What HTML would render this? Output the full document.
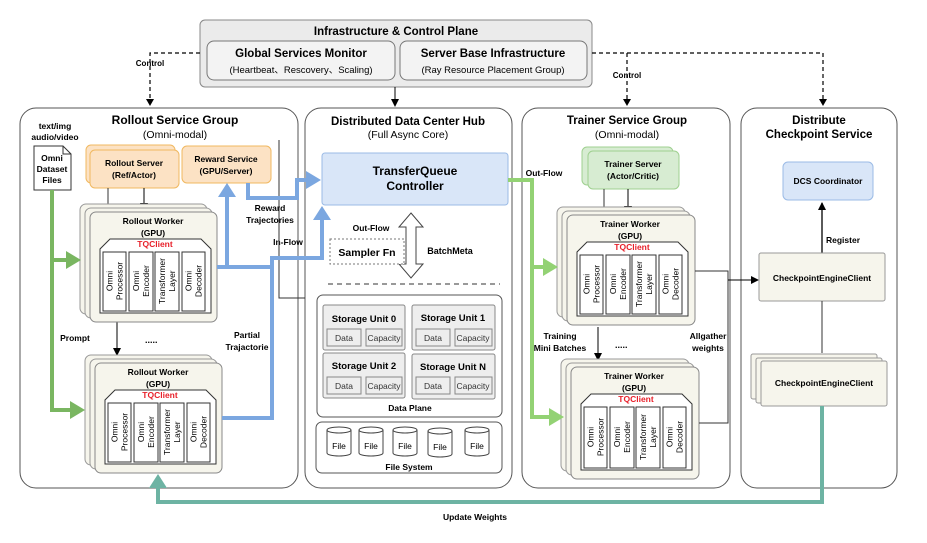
<!DOCTYPE html>
<html><head><meta charset="utf-8"><style>
html,body{margin:0;padding:0;background:#fff;}
svg{display:block;font-family:"Liberation Sans",Arial,sans-serif;}
.b{font-weight:bold;}
</style></head><body>
<svg width="927" height="543" viewBox="0 0 927 543" xmlns="http://www.w3.org/2000/svg">
<defs>
<marker id="ah" markerWidth="8" markerHeight="8" refX="7" refY="4" orient="auto" markerUnits="userSpaceOnUse"><path d="M0,0 L8,4 L0,8 Z" fill="#000"/></marker>
</defs>

<!-- Top infra box -->
<rect x="200" y="20" width="392" height="67" rx="5" fill="#ebebeb" stroke="#888"/>
<text x="396" y="35" text-anchor="middle" font-size="11.5" class="b">Infrastructure &amp; Control Plane</text>
<rect x="207" y="41" width="188" height="39" rx="7" fill="#f3f3f3" stroke="#777"/>
<text x="301" y="57" text-anchor="middle" font-size="11.5" class="b">Global Services Monitor</text>
<text x="301" y="73" text-anchor="middle" font-size="9.5" font-family="Liberation Sans,Noto Sans CJK SC,sans-serif">(Heartbeat、Rescovery、Scaling)</text>
<rect x="400" y="41" width="187" height="39" rx="7" fill="#f3f3f3" stroke="#777"/>
<text x="493" y="57" text-anchor="middle" font-size="11.5" class="b">Server Base Infrastructure</text>
<text x="493" y="73" text-anchor="middle" font-size="9.5">(Ray Resource Placement Group)</text>

<!-- control dashed -->
<g stroke="#000" stroke-width="1.2" stroke-dasharray="4,3" fill="none">
<path d="M200,53 H150 V100"/>
<path d="M592,53 H823 V100"/>
<path d="M627,53 V100"/>
</g>
<g fill="#000">
<path d="M146,99 L154,99 L150,106 Z"/><path d="M819,99 L827,99 L823,106 Z"/><path d="M623,99 L631,99 L627,106 Z"/>
</g>
<text x="150" y="66" text-anchor="middle" font-size="8" class="b">Control</text>
<text x="627" y="78" text-anchor="middle" font-size="8" class="b">Control</text>
<line x1="395" y1="87" x2="395" y2="106" stroke="#000" marker-end="url(#ah)"/>

<!-- group containers -->
<rect x="20" y="108" width="278" height="380" rx="16" fill="#fff" stroke="#555"/>
<rect x="305" y="108" width="207" height="380" rx="16" fill="#fff" stroke="#555"/>
<rect x="522" y="108" width="208" height="380" rx="16" fill="#fff" stroke="#555"/>
<rect x="741" y="108" width="156" height="380" rx="16" fill="#fff" stroke="#555"/>

<!-- Rollout group -->
<text x="175" y="124" text-anchor="middle" font-size="12" class="b">Rollout Service Group</text>
<text x="175" y="138" text-anchor="middle" font-size="10.5">(Omni-modal)</text>
<text x="55" y="129" text-anchor="middle" font-size="8.5" class="b">text/img</text>
<text x="55" y="140" text-anchor="middle" font-size="8.5" class="b">audio/video</text>
<path d="M34,146 H63 L71,154 V190 H34 Z" fill="#fff" stroke="#333"/>
<path d="M63,146 V154 H71" fill="none" stroke="#333"/>
<text x="52" y="161" text-anchor="middle" font-size="8.5" class="b">Omni</text>
<text x="52" y="172" text-anchor="middle" font-size="8.5" class="b">Dataset</text>
<text x="52" y="183" text-anchor="middle" font-size="8.5" class="b">Files</text>

<rect x="86" y="145" width="89" height="38" rx="5" fill="#fce2c4" stroke="#f0b860"/>
<rect x="90" y="150" width="89" height="38" rx="5" fill="#fce2c4" stroke="#f0b860"/>
<text x="134" y="166" text-anchor="middle" font-size="8.5" class="b">Rollout Server</text>
<text x="134" y="178" text-anchor="middle" font-size="8.5" class="b">(Ref/Actor)</text>
<rect x="182" y="146" width="89" height="37" rx="5" fill="#fce2c4" stroke="#f0b860"/>
<text x="226" y="162" text-anchor="middle" font-size="8.5" class="b">Reward Service</text>
<text x="226" y="174" text-anchor="middle" font-size="8.5" class="b">(GPU/Server)</text>
<line x1="108" y1="188" x2="108" y2="204" stroke="#333"/>
<line x1="144" y1="188" x2="144" y2="210" stroke="#000" marker-end="url(#ah)"/>
<line x1="117" y1="322" x2="117" y2="355" stroke="#000" marker-end="url(#ah)"/>
<text x="145" y="343" font-size="9" class="b">.....</text>
<text x="75" y="341" text-anchor="middle" font-size="8.5" class="b">Prompt</text>
<text x="247" y="338" text-anchor="middle" font-size="8.5" class="b">Partial</text>
<text x="247" y="350" text-anchor="middle" font-size="8.5" class="b">Trajactorie</text>
<text x="270" y="211" text-anchor="middle" font-size="8.5" class="b">Reward</text>
<text x="270" y="223" text-anchor="middle" font-size="8.5" class="b">Trajectories</text>
<text x="288" y="245" text-anchor="middle" font-size="8.5" class="b">In-Flow</text>
<path d="M279,140 V298 H305" fill="none" stroke="#333"/>

<!-- Worker template R1 -->
<g transform="translate(90,212)">
<rect x="-10" y="-8" width="127" height="110" rx="6" fill="#f6f5ec" stroke="#999"/>
<rect x="-5" y="-4" width="127" height="110" rx="6" fill="#f6f5ec" stroke="#999"/>
<rect x="0" y="0" width="127" height="110" rx="6" fill="#f6f5ec" stroke="#888"/>
<text x="63" y="12" text-anchor="middle" font-size="8.5" class="b">Rollout Worker</text>
<text x="63" y="24" text-anchor="middle" font-size="8.5" class="b">(GPU)</text>
<path d="M20,27 H111 L121,37 V101 H10 V37 Z" fill="#fff" stroke="#333"/>
<text x="65" y="35" text-anchor="middle" font-size="8.5" class="b" fill="#e8202a">TQClient</text>
<g fill="#fff" stroke="#333"><rect x="13" y="40" width="23" height="59"/><rect x="39" y="40" width="24" height="59"/><rect x="65" y="40" width="24" height="59"/><rect x="92" y="40" width="23" height="59"/></g>
<g font-size="8.5" text-anchor="middle">
<text transform="translate(24.5,69) rotate(-90)"><tspan x="0" y="-2">Omni</tspan><tspan x="0" y="8">Processor</tspan></text>
<text transform="translate(51,69) rotate(-90)"><tspan x="0" y="-2">Omni</tspan><tspan x="0" y="8">Encoder</tspan></text>
<text transform="translate(77,69) rotate(-90)"><tspan x="0" y="-2">Transformer</tspan><tspan x="0" y="8">Layer</tspan></text>
<text transform="translate(103.5,69) rotate(-90)"><tspan x="0" y="-2">Omni</tspan><tspan x="0" y="8">Decoder</tspan></text>
</g></g>

<g transform="translate(95,363)">
<rect x="-10" y="-8" width="127" height="110" rx="6" fill="#f6f5ec" stroke="#999"/>
<rect x="-5" y="-4" width="127" height="110" rx="6" fill="#f6f5ec" stroke="#999"/>
<rect x="0" y="0" width="127" height="110" rx="6" fill="#f6f5ec" stroke="#888"/>
<text x="63" y="12" text-anchor="middle" font-size="8.5" class="b">Rollout Worker</text>
<text x="63" y="24" text-anchor="middle" font-size="8.5" class="b">(GPU)</text>
<path d="M20,27 H111 L121,37 V101 H10 V37 Z" fill="#fff" stroke="#333"/>
<text x="65" y="35" text-anchor="middle" font-size="8.5" class="b" fill="#e8202a">TQClient</text>
<g fill="#fff" stroke="#333"><rect x="13" y="40" width="23" height="59"/><rect x="39" y="40" width="24" height="59"/><rect x="65" y="40" width="24" height="59"/><rect x="92" y="40" width="23" height="59"/></g>
<g font-size="8.5" text-anchor="middle">
<text transform="translate(24.5,69) rotate(-90)"><tspan x="0" y="-2">Omni</tspan><tspan x="0" y="8">Processor</tspan></text>
<text transform="translate(51,69) rotate(-90)"><tspan x="0" y="-2">Omni</tspan><tspan x="0" y="8">Encoder</tspan></text>
<text transform="translate(77,69) rotate(-90)"><tspan x="0" y="-2">Transformer</tspan><tspan x="0" y="8">Layer</tspan></text>
<text transform="translate(103.5,69) rotate(-90)"><tspan x="0" y="-2">Omni</tspan><tspan x="0" y="8">Decoder</tspan></text>
</g></g>

<!-- green prompt -->
<g stroke="#7ab661" stroke-width="4" fill="none">
<path d="M52,190 V410 H72"/><path d="M52,260 H68"/>
</g>
<g fill="#7ab661"><path d="M66,251 L81,260 L66,269 Z"/><path d="M70,401 L85,410 L70,419 Z"/></g>

<!-- blue flows -->
<g stroke="#7ba7e0" stroke-width="4" fill="none">
<path d="M217,267 H272 V258 H322 V218"/>
<path d="M227,267 V196"/>
<path d="M222,418 H272 V267"/>
<path d="M248,183 V198 H297 V180 H308"/>
</g>
<g fill="#7ba7e0"><path d="M218,197 L227,183 L236,197 Z"/><path d="M313,220 L322,206 L331,220 Z"/><path d="M306,171 L321,180 L306,189 Z"/></g>

<!-- Hub -->
<text x="408" y="125" text-anchor="middle" font-size="11.5" class="b">Distributed Data Center Hub</text>
<text x="408" y="138" text-anchor="middle" font-size="10.5">(Full Async Core)</text>
<rect x="322" y="153" width="186" height="52" rx="3" fill="#d9e6f8" stroke="#9bbbe6"/>
<text x="415" y="175" text-anchor="middle" font-size="12" class="b">TransferQueue</text>
<text x="415" y="190" text-anchor="middle" font-size="12" class="b">Controller</text>
<path d="M411,213 L423,227 H416 V264 H423 L411,278 L399,264 H406 V227 H399 Z" fill="#fff" stroke="#444"/>
<text x="371" y="231" text-anchor="middle" font-size="8.5" class="b">Out-Flow</text>
<rect x="330" y="239" width="74" height="25" fill="#fff" stroke="#777" stroke-dasharray="2,2"/>
<text x="367" y="256" text-anchor="middle" font-size="10.5" class="b">Sampler Fn</text>
<text x="450" y="254" text-anchor="middle" font-size="9" class="b">BatchMeta</text>
<line x1="328" y1="284" x2="500" y2="284" stroke="#333" stroke-dasharray="5,4"/>
<rect x="317" y="295" width="185" height="122" rx="6" fill="#fff" stroke="#555"/>
<g>
<rect x="323" y="305" width="82" height="45" rx="2" fill="#eeeeee" stroke="#888"/>
<rect x="412" y="305" width="83" height="45" rx="2" fill="#eeeeee" stroke="#888"/>
<rect x="323" y="353" width="82" height="45" rx="2" fill="#eeeeee" stroke="#888"/>
<rect x="412" y="354" width="83" height="45" rx="2" fill="#eeeeee" stroke="#888"/>
</g>
<g font-size="9.5" class="b" text-anchor="middle">
<text x="364" y="322">Storage Unit 0</text><text x="453" y="321">Storage Unit 1</text>
<text x="364" y="369">Storage Unit 2</text><text x="453" y="370">Storage Unit N</text>
</g>
<g fill="#eeeeee" stroke="#888">
<rect x="327" y="329" width="34" height="17"/><rect x="366" y="329" width="36" height="17"/>
<rect x="416" y="329" width="34" height="17"/><rect x="455" y="329" width="37" height="17"/>
<rect x="327" y="377" width="34" height="17"/><rect x="366" y="377" width="36" height="17"/>
<rect x="416" y="377" width="34" height="17"/><rect x="455" y="377" width="37" height="17"/>
</g>
<g font-size="8.5" text-anchor="middle" fill="#333">
<text x="344" y="341">Data</text><text x="384" y="341">Capacity</text>
<text x="433" y="341">Data</text><text x="473" y="341">Capacity</text>
<text x="344" y="389">Data</text><text x="384" y="389">Capacity</text>
<text x="433" y="389">Data</text><text x="473" y="389">Capacity</text>
</g>
<text x="410" y="411" text-anchor="middle" font-size="8.5" class="b">Data Plane</text>
<rect x="316" y="422" width="186" height="51" rx="6" fill="#fff" stroke="#555"/>
<g fill="#fff" stroke="#444">
<path d="M327,430 V453 A12,3 0 0 0 351,453 V430"/><ellipse cx="339" cy="430" rx="12" ry="3"/>
<path d="M359,430 V453 A12,3 0 0 0 383,453 V430"/><ellipse cx="371" cy="430" rx="12" ry="3"/>
<path d="M393,430 V453 A12,3 0 0 0 417,453 V430"/><ellipse cx="405" cy="430" rx="12" ry="3"/>
<path d="M428,431 V454 A12,3 0 0 0 452,454 V431"/><ellipse cx="440" cy="431" rx="12" ry="3"/>
<path d="M465,430 V453 A12,3 0 0 0 489,453 V430"/><ellipse cx="477" cy="430" rx="12" ry="3"/>
</g>
<g font-size="8.5" text-anchor="middle"><text x="339" y="449">File</text><text x="371" y="449">File</text><text x="405" y="449">File</text><text x="440" y="450">File</text><text x="477" y="449">File</text></g>
<text x="409" y="470" text-anchor="middle" font-size="8.5" class="b">File System</text>

<!-- Trainer -->
<text x="627" y="124" text-anchor="middle" font-size="11.5" class="b">Trainer Service Group</text>
<text x="627" y="138" text-anchor="middle" font-size="10.5">(Omni-modal)</text>
<rect x="582" y="147" width="91" height="38" rx="5" fill="#d7ecd2" stroke="#9fd090"/>
<rect x="588" y="151" width="91" height="38" rx="5" fill="#d7ecd2" stroke="#9fd090"/>
<text x="633" y="167" text-anchor="middle" font-size="8.5" class="b">Trainer Server</text>
<text x="633" y="179" text-anchor="middle" font-size="8.5" class="b">(Actor/Critic)</text>
<line x1="604" y1="189" x2="604" y2="207" stroke="#333"/>
<line x1="628" y1="189" x2="628" y2="213" stroke="#000" marker-end="url(#ah)"/>
<line x1="598" y1="327" x2="598" y2="360" stroke="#000" marker-end="url(#ah)"/>
<text x="615" y="348" font-size="9" class="b">.....</text>
<text x="560" y="339" text-anchor="middle" font-size="8.5" class="b">Training</text>
<text x="560" y="351" text-anchor="middle" font-size="8.5" class="b">Mini Batches</text>
<text x="708" y="339" text-anchor="middle" font-size="8.5" class="b">Allgather</text>
<text x="708" y="351" text-anchor="middle" font-size="8.5" class="b">weights</text>
<text x="544" y="176" text-anchor="middle" font-size="8.5" class="b">Out-Flow</text>

<g transform="translate(567,215)">
<rect x="-10" y="-8" width="128" height="110" rx="6" fill="#f6f5ec" stroke="#999"/>
<rect x="-5" y="-4" width="128" height="110" rx="6" fill="#f6f5ec" stroke="#999"/>
<rect x="0" y="0" width="128" height="110" rx="6" fill="#f6f5ec" stroke="#888"/>
<text x="63" y="12" text-anchor="middle" font-size="8.5" class="b">Trainer Worker</text>
<text x="63" y="24" text-anchor="middle" font-size="8.5" class="b">(GPU)</text>
<path d="M20,27 H111 L121,37 V101 H10 V37 Z" fill="#fff" stroke="#333"/>
<text x="65" y="35" text-anchor="middle" font-size="8.5" class="b" fill="#e8202a">TQClient</text>
<g fill="#fff" stroke="#333"><rect x="13" y="40" width="23" height="59"/><rect x="39" y="40" width="24" height="59"/><rect x="65" y="40" width="24" height="59"/><rect x="92" y="40" width="23" height="59"/></g>
<g font-size="8.5" text-anchor="middle">
<text transform="translate(24.5,69) rotate(-90)"><tspan x="0" y="-2">Omni</tspan><tspan x="0" y="8">Processor</tspan></text>
<text transform="translate(51,69) rotate(-90)"><tspan x="0" y="-2">Omni</tspan><tspan x="0" y="8">Encoder</tspan></text>
<text transform="translate(77,69) rotate(-90)"><tspan x="0" y="-2">Transformer</tspan><tspan x="0" y="8">Layer</tspan></text>
<text transform="translate(103.5,69) rotate(-90)"><tspan x="0" y="-2">Omni</tspan><tspan x="0" y="8">Decoder</tspan></text>
</g></g>

<g transform="translate(571,367)">
<rect x="-10" y="-8" width="128" height="112" rx="6" fill="#f6f5ec" stroke="#999"/>
<rect x="-5" y="-4" width="128" height="112" rx="6" fill="#f6f5ec" stroke="#999"/>
<rect x="0" y="0" width="128" height="112" rx="6" fill="#f6f5ec" stroke="#888"/>
<text x="63" y="12" text-anchor="middle" font-size="8.5" class="b">Trainer Worker</text>
<text x="63" y="24" text-anchor="middle" font-size="8.5" class="b">(GPU)</text>
<path d="M20,27 H111 L121,37 V103 H10 V37 Z" fill="#fff" stroke="#333"/>
<text x="65" y="35" text-anchor="middle" font-size="8.5" class="b" fill="#e8202a">TQClient</text>
<g fill="#fff" stroke="#333"><rect x="13" y="40" width="23" height="61"/><rect x="39" y="40" width="24" height="61"/><rect x="65" y="40" width="24" height="61"/><rect x="92" y="40" width="23" height="61"/></g>
<g font-size="8.5" text-anchor="middle">
<text transform="translate(24.5,70) rotate(-90)"><tspan x="0" y="-2">Omni</tspan><tspan x="0" y="8">Processor</tspan></text>
<text transform="translate(51,70) rotate(-90)"><tspan x="0" y="-2">Omni</tspan><tspan x="0" y="8">Encoder</tspan></text>
<text transform="translate(77,70) rotate(-90)"><tspan x="0" y="-2">Transformer</tspan><tspan x="0" y="8">Layer</tspan></text>
<text transform="translate(103.5,70) rotate(-90)"><tspan x="0" y="-2">Omni</tspan><tspan x="0" y="8">Decoder</tspan></text>
</g></g>

<!-- green outflow -->
<g stroke="#93d274" stroke-width="4" fill="none">
<path d="M508,180 H532 V417 H550"/><path d="M532,267 H545"/>
</g>
<g fill="#93d274"><path d="M543,258 L558,267 L543,276 Z"/><path d="M549,408 L564,417 L549,426 Z"/></g>

<!-- allgather lines -->
<path d="M695,271 H728 V423 H699" fill="none" stroke="#333"/>
<line x1="728" y1="280" x2="758" y2="280" stroke="#000" marker-end="url(#ah)"/>

<!-- DCS -->
<text x="819" y="124" text-anchor="middle" font-size="11.5" class="b">Distribute</text>
<text x="819" y="138" text-anchor="middle" font-size="11.5" class="b">Checkpoint Service</text>
<rect x="783" y="162" width="90" height="38" rx="5" fill="#d9e6f8" stroke="#9bbbe6"/>
<text x="828" y="184" text-anchor="middle" font-size="8.5" class="b">DCS Coordinator</text>
<line x1="822" y1="253" x2="822" y2="203" stroke="#000" stroke-width="1.3" marker-end="url(#ah)"/>
<text x="843" y="243" text-anchor="middle" font-size="8.5" class="b">Register</text>
<rect x="759" y="253" width="126" height="48" rx="2" fill="#f6f5ec" stroke="#999"/>
<text x="822" y="281" text-anchor="middle" font-size="8.5" class="b">CheckpointEngineClient</text>
<line x1="822" y1="301" x2="822" y2="353" stroke="#333"/>
<rect x="751" y="354" width="126" height="45" rx="2" fill="#f6f5ec" stroke="#999"/>
<rect x="756" y="358" width="126" height="45" rx="2" fill="#f6f5ec" stroke="#999"/>
<rect x="761" y="361" width="126" height="45" rx="2" fill="#f6f5ec" stroke="#999"/>
<text x="824" y="386" text-anchor="middle" font-size="8.5" class="b">CheckpointEngineClient</text>

<!-- update weights -->
<path d="M822,406 V502 H158 V486" fill="none" stroke="#6db3a3" stroke-width="4"/>
<path d="M149,488 L158,474 L167,488 Z" fill="#6db3a3"/>
<text x="475" y="520" text-anchor="middle" font-size="8.5" class="b">Update Weights</text>
</svg>
</body></html>
